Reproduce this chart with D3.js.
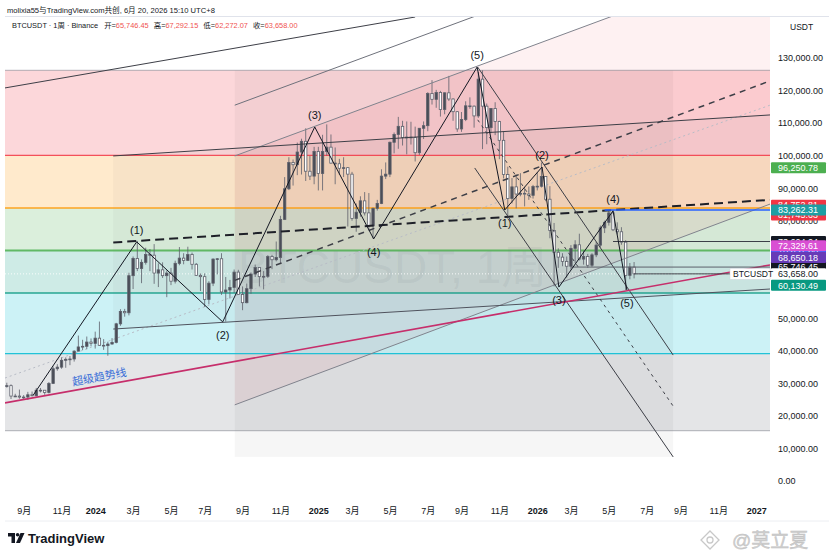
<!DOCTYPE html>
<html>
<head>
<meta charset="utf-8">
<script src="https://cdn.jsdelivr.net/npm/d3@7"></script>
<style>
  body { margin: 0; background: #fff; }
  svg text { font-family: "Liberation Sans", "Noto Sans CJK SC", sans-serif; }
</style>
</head>
<body>
<svg id="chart" width="829" height="556"></svg>
<script>
// ── Data (prices in thousands of USDT, one weekly candle per row, first week 2023-08-07) ──
const FIRST_WEEK = "2023-08-07";
const OPEN = [
  29.1, 29.3, 26.1, 26.1, 25.8, 25.8, 26.5, 26.2, 27.9, 27.9, 27.2, 30.0, 34.5, 35.0, 37.1, 37.4, 37.5, 39.9, 41.2, 41.4, 42.7,
  42.3, 43.9, 41.7, 41.6, 42.1, 42.6, 48.3, 52.1, 51.7, 63.1, 68.4, 65.3, 67.2, 69.6, 69.4, 63.9, 64.9, 63.1, 63.9, 61.4, 66.9,
  68.5, 67.8, 69.6, 66.6, 63.2, 62.8, 55.8, 60.8, 68.2, 68.3, 58.1, 58.7, 59.5, 64.2, 57.3, 54.8, 59.1, 63.6, 65.6, 62.8, 62.9,
  69.0, 68.0, 68.7, 80.4, 89.8, 97.9, 97.2, 101.1, 104.4, 95.2, 93.7,
  101.3, 94.5, 101.3, 102.6, 97.7, 97.5, 96.1, 96.3, 94.3, 80.7, 82.6, 86.1, 82.4, 78.4, 83.8, 85.3, 93.7, 94.3, 104.1, 106.5,
  109.0, 105.6, 105.7, 105.6, 100.9, 108.4, 109.2, 119.1, 117.3, 119.4, 114.2, 119.3, 117.4, 113.5, 108.2, 111.1, 115.3, 115.2,
  112.2, 123.5, 115.2, 108.6, 114.5, 110.5, 104.7, 94.2, 86.8, 90.4, 88.2, 88.4, 88.2, 87.8,
  90.5, 90.6, 93.6, 86.6, 77.0, 70.3, 68.8, 67.5, 66.0, 71.5, 72.6, 68.2, 69.0, 66.3, 69.5, 72.5, 77.8, 79.5, 82.4, 77.2, 76.6,
  73.4, 63.2, 65.74645
];
const HIGH = [
  30.2, 29.7, 26.8, 28.1, 26.4, 27.4, 27.5, 28.6, 28.6, 27.9, 30.4, 35.2, 35.9, 38.0, 38.0, 38.4, 40.2, 44.7, 43.4, 44.4, 43.8,
  45.9, 49.0, 43.6, 42.8, 43.9, 48.6, 52.8, 52.9, 64.0, 69.0, 73.8, 68.1, 71.7, 71.3, 72.8, 66.9, 67.2, 64.7, 65.5, 67.7, 71.9,
  70.0, 72.0, 70.2, 67.0, 63.8, 63.8, 61.4, 68.4, 68.5, 70.0, 62.7, 61.8, 65.0, 64.9, 59.8, 60.7, 64.1, 66.5, 65.7, 64.5, 69.4,
  69.5, 73.6, 81.5, 93.4, 99.5, 98.8, 104.0, 105.2, 108.4, 99.9, 102.7,
  102.7, 106.4, 109.6, 106.5, 102.5, 99.0, 99.5, 96.5, 95.0, 85.3, 87.5, 88.8, 88.5, 84.0, 86.4, 95.8, 97.9, 104.3, 107.1, 111.9,
  110.7, 110.5, 110.4, 108.9, 108.5, 110.5, 119.5, 123.2, 120.2, 119.9, 119.4, 124.5, 117.6, 113.6, 113.4, 116.7, 117.9, 115.4,
  125.7, 126.2, 116.0, 114.6, 116.4, 110.7, 107.5, 96.6, 93.1, 94.2, 94.6, 90.4, 90.5, 91.0,
  94.8, 97.9, 93.7, 90.6, 79.3, 71.5, 70.0, 69.0, 72.5, 74.0, 76.0, 70.8, 69.8, 70.0, 73.5, 78.5, 80.0, 83.0, 83.3, 79.5, 78.0,
  74.0, 67.0, 67.29215
];
const LOW = [
  28.7, 25.2, 25.8, 25.3, 24.9, 24.9, 26.0, 26.0, 27.2, 26.5, 26.9, 29.8, 33.9, 34.5, 34.8, 35.6, 36.7, 39.9, 40.2, 40.5, 41.4,
  40.7, 41.5, 40.3, 38.5, 41.9, 42.3, 47.7, 50.5, 50.9, 59.0, 64.5, 60.8, 66.5, 64.5, 60.6, 59.6, 62.4, 56.5, 60.2, 60.7, 66.3,
  66.6, 67.6, 65.0, 63.0, 58.4, 53.5, 54.3, 59.9, 63.5, 57.2, 49.0, 56.1, 57.8, 57.2, 52.5, 54.6, 57.5, 62.7, 59.8, 58.9, 62.4,
  65.1, 67.5, 66.8, 80.2, 89.4, 90.8, 94.0, 94.2, 92.2, 92.5, 91.2,
  89.3, 89.3, 100.0, 97.5, 91.2, 94.1, 93.4, 78.2, 80.0, 76.6, 81.2, 81.6, 77.2, 74.5, 83.1, 85.1, 92.8, 93.4, 100.7, 102.1,
  103.1, 100.4, 103.4, 98.2, 100.2, 105.1, 107.5, 115.7, 114.7, 112.0, 112.7, 116.8, 110.7, 107.3, 107.3, 110.6, 114.4, 108.6,
  111.6, 102.0, 103.5, 106.9, 106.3, 98.9, 93.0, 80.6, 85.3, 83.8, 87.5, 84.4, 86.4, 86.8,
  89.3, 90.2, 86.0, 74.6, 59.8, 65.5, 66.0, 62.5, 65.0, 67.0, 67.8, 66.5, 65.5, 65.8, 68.8, 71.8, 76.2, 78.5, 76.8, 75.8, 72.6,
  58.7, 62.0, 62.27207
];
const CLOSE = [
  29.3, 26.1, 26.1, 25.8, 25.8, 26.5, 26.2, 27.9, 27.9, 27.2, 30.0, 34.5, 35.0, 37.1, 37.4, 37.5, 39.9, 41.2, 41.4, 42.7, 42.3,
  43.9, 41.7, 41.6, 42.1, 42.6, 48.3, 52.1, 51.7, 63.1, 68.4, 65.3, 67.2, 69.6, 69.4, 63.9, 64.9, 63.1, 63.9, 61.4, 66.9, 68.5,
  67.8, 69.6, 66.6, 63.2, 62.8, 55.8, 60.8, 68.2, 68.3, 58.1, 58.7, 59.5, 64.2, 57.3, 54.8, 59.1, 63.6, 65.6, 62.8, 62.9, 69.0,
  68.0, 68.7, 80.4, 89.8, 97.9, 97.2, 101.1, 104.4, 95.2, 93.7, 101.3,
  94.5, 101.3, 102.6, 97.7, 97.5, 96.1, 96.3, 94.3, 80.7, 82.6, 86.1, 82.4, 78.4, 83.8, 85.3, 93.7, 94.3, 104.1, 106.5, 109.0,
  105.6, 105.7, 105.6, 100.9, 108.4, 109.2, 119.1, 117.3, 119.4, 114.2, 119.3, 117.4, 113.5, 108.2, 111.1, 115.3, 115.2, 112.2,
  123.5, 115.2, 108.6, 114.5, 110.5, 104.7, 94.2, 86.8, 90.4, 88.2, 88.4, 88.2, 87.8, 90.5,
  90.6, 93.6, 86.6, 77.0, 70.3, 68.8, 67.5, 66.0, 71.5, 72.6, 68.2, 69.0, 66.3, 69.5, 72.5, 77.8, 79.5, 82.4, 77.2, 76.6, 73.4,
  63.2, 65.74645, 63.658
];

// Fibonacci retracement (Nov 2022 low → Oct 2025 high)
const FIB_LOW = 15.476, FIB_HIGH = 126.19963;
const FIB_RATIOS = [0, 0.236, 0.382, 0.5, 0.618, 0.786, 1];

// Elliott waves [date, price]
const WAVE_UP = [["2023-09-20", 26.4], ["2024-03-10", 73.5], ["2024-07-31", 48.9], ["2024-12-31", 108.8], ["2025-04-08", 74.4], ["2025-09-27", 127.2]];
const WAVE_UP_LABELS = ["", "(1)", "(2)", "(3)", "(4)", "(5)"];
const WAVE_DOWN = [["2025-09-27", 127.2], ["2025-11-12", 83.3], ["2026-01-13", 96.5], ["2026-02-10", 59.6], ["2026-05-11", 83.0], ["2026-06-03", 58.7]];
const WAVE_DOWN_LABELS = ["", "(1)", "(2)", "(3)", "(4)", "(5)"];

// Drawn trend lines [date, price]
const LINE_TOP      = [["2023-08-04", 120.8], ["2025-06-16", 142.6]];
const LINE_UPPER    = [["2024-08-20", 115.5], ["2027-01-27", 176.4]];
const CH1_TOP       = [["2024-08-20", 99.9],  ["2027-01-27", 160.8]];
const CH1_MID       = [["2024-08-20", 61.65], ["2027-01-27", 122.95]];
const CH1_BOTTOM    = [["2024-08-20", 23.4],  ["2027-01-27", 85.1]];
const CH2_TOP       = [["2024-01-31", 99.9],  ["2027-01-27", 112.5]];
const CH2_MID       = [["2024-01-31", 73.3],  ["2027-01-27", 86.4]];
const CH2_BOTTOM    = [["2024-01-31", 46.7],  ["2027-01-27", 59.0]];
const DOWN_UPPER    = [["2025-09-28", 127.2], ["2026-08-19", 38.7]];
const DOWN_MID      = [["2025-09-28", 111.0], ["2026-08-19", 23.0]];
const DOWN_LOWER    = [["2025-09-23", 96.2],  ["2026-08-19", 7.4]];
const SUPER_TREND   = [["2023-08-04", 24.0],  ["2027-01-27", 66.4]];
const FAINT_LINE    = [["2023-08-04", 31.65], ["2027-01-27", 115.5]];
const SHADE_BOX     = [["2024-08-20", 126.2], ["2026-08-19", 7.4]];

// Horizontal rays [start date, price]
const RAY_BLUE  = ["2026-04-27", 83.26231];
const RAY_HIGH  = ["2026-05-11", 73.60404];
const RAY_MID   = ["2026-03-02", 65.74645];
const RAY_LAST  = ["2026-06-15", 63.658];

// Price axis tags
const TAG_PRICES = [96250.78, 81745.63, 84752.81, 83262.31, 73604.04, 70837.80, 72329.61, 65746.45, 68650.18, 63658.00, 60130.49];
const LAST_PRICE = 63658.00;

// Axes
const Y_TICKS = [0, 10, 20, 30, 40, 50, 60, 70, 80, 90, 100, 110, 120, 130];
const X_TICKS = ["2023-09-04", "2023-11-06", "2024-01-01", "2024-03-04", "2024-05-06", "2024-07-01", "2024-09-02", "2024-11-04",
  "2025-01-06", "2025-03-03", "2025-05-05", "2025-07-07", "2025-09-01", "2025-11-03", "2026-01-05", "2026-03-02", "2026-05-04",
  "2026-07-06", "2026-08-31", "2026-11-02", "2027-01-04"];
const X_LABELS = ["9月", "11月", "2024", "3月", "5月", "7月", "9月", "11月", "2025", "3月", "5月", "7月", "9月", "11月", "2026",
  "3月", "5月", "7月", "9月", "11月", "2027"];

// ── Layout ──────────────────────────────────────────────────────────────────
const PL = 5, PR = 770, PT = 17, PB = 497;
const svg = d3.select("#chart");
const x = d3.scaleUtc().domain([new Date("2023-08-04"), new Date("2027-01-27")]).range([PL, PR]);
const y = d3.scaleLinear().domain([0, 130]).range([481, 58]);
const D = s => new Date(s);
const fmt = d3.format(",.2f");

svg.append("rect").attr("width", 829).attr("height", 556).attr("fill", "#fff");
svg.append("defs").append("clipPath").attr("id", "plot")
  .append("rect").attr("x", PL).attr("y", PT).attr("width", PR - PL).attr("height", PB - PT);
const plot = svg.append("g").attr("clip-path", "url(#plot)");

// Fib bands + levels
const FIB_COLORS = ["#787b86", "#f23645", "#ff9800", "#4caf50", "#089981", "#00bcd4", "#787b86"];
const fibPrice = r => FIB_HIGH - r * (FIB_HIGH - FIB_LOW);
FIB_RATIOS.slice(1).forEach((r, i) => {
  const top = y(fibPrice(FIB_RATIOS[i])), bot = y(fibPrice(r));
  plot.append("rect").attr("x", PL).attr("width", PR - PL)
    .attr("y", top).attr("height", bot - top)
    .attr("fill", FIB_COLORS[i + 1]).attr("fill-opacity", 0.2);
});

const line = d3.line().x(d => x(D(d[0]))).y(d => y(d[1]));
const poly = (a, b) => line([a[0], a[1], b[1], b[0]]) + "Z";

// Channel fills and shaded box
plot.append("path").attr("d", poly(CH2_TOP, CH2_BOTTOM)).attr("fill", "#5a5a5a").attr("fill-opacity", 0.045);
plot.append("path").attr("d", poly(CH1_TOP, CH1_BOTTOM)).attr("fill", "#f23645").attr("fill-opacity", 0.07);
plot.append("rect")
  .attr("x", x(D(SHADE_BOX[0][0]))).attr("y", y(SHADE_BOX[0][1]))
  .attr("width", x(D(SHADE_BOX[1][0])) - x(D(SHADE_BOX[0][0])))
  .attr("height", y(SHADE_BOX[1][1]) - y(SHADE_BOX[0][1]))
  .attr("fill", "#000").attr("fill-opacity", 0.035);

FIB_RATIOS.forEach((r, i) => {
  plot.append("line").attr("x1", PL).attr("x2", PR)
    .attr("y1", y(fibPrice(r))).attr("y2", y(fibPrice(r)))
    .attr("stroke", FIB_COLORS[i]).attr("stroke-width", r === 0.5 ? 2 : 1.3)
    .attr("stroke-opacity", r === 0 || r === 1 ? 0.45 : 0.85);
});

// Watermark
plot.append("text").attr("x", 238).attr("y", 283).attr("font-size", 46)
  .attr("fill", "#787b86").attr("fill-opacity", 0.1).text("BTCUSDT, 1周");

// Last price dotted line
plot.append("line").attr("x1", PL).attr("x2", PR).attr("y1", y(LAST_PRICE / 1000)).attr("y2", y(LAST_PRICE / 1000))
  .attr("stroke", "#fff").attr("stroke-dasharray", "1,2").attr("stroke-opacity", 0.9);

// Faint dotted line
plot.append("path").attr("d", line(FAINT_LINE)).attr("stroke", "#b8bcc6").attr("stroke-dasharray", "2,3").attr("fill", "none");

// Candles
const candles = OPEN.map((o, i) => ({
  date: d3.utcMonday.offset(D(FIRST_WEEK), i), o, h: HIGH[i], l: LOW[i], c: CLOSE[i]
}));
const cg = plot.append("g");
cg.selectAll("line").data(candles).join("line")
  .attr("x1", d => x(d.date)).attr("x2", d => x(d.date))
  .attr("y1", d => y(d.h)).attr("y2", d => y(d.l))
  .attr("stroke", "#5d606b").attr("stroke-width", 0.8);
cg.selectAll("rect").data(candles).join("rect")
  .attr("x", d => x(d.date) - 1.2).attr("width", 2.4)
  .attr("y", d => y(Math.max(d.o, d.c)))
  .attr("height", d => Math.max(0.8, Math.abs(y(d.o) - y(d.c))))
  .attr("fill", d => d.c >= d.o ? "#4a4d57" : "#ffffff")
  .attr("stroke", "#5d606b").attr("stroke-width", 0.8);

// Trend lines
function drawLine(pts, stroke, width, dash) {
  plot.append("path").attr("d", line(pts)).attr("fill", "none")
    .attr("stroke", stroke).attr("stroke-width", width)
    .attr("stroke-dasharray", dash || null);
}
drawLine(LINE_TOP, "#3d3f47", 1);
drawLine(LINE_UPPER, "#6e717b", 1);
drawLine(CH1_TOP, "#80838d", 1);
drawLine(CH1_BOTTOM, "#80838d", 1);
drawLine(CH1_MID, "#3d3f47", 1.5, "6,5");
drawLine(CH2_TOP, "#3d3f47", 1);
drawLine(CH2_BOTTOM, "#50535e", 1);
drawLine(CH2_MID, "#1e2028", 2, "9,5");
drawLine(DOWN_UPPER, "#3d3f47", 1);
drawLine(DOWN_LOWER, "#3d3f47", 1);
drawLine(DOWN_MID, "#3d3f47", 1, "3,4");
drawLine(SUPER_TREND, "#c62e6b", 1.6);

[[RAY_BLUE, "#2962ff", 1.5], [RAY_HIGH, "#3d3f47", 1], [RAY_MID, "#5d606b", 1], [RAY_LAST, "#3d3f47", 1]]
  .forEach(([r, stroke, w]) => drawLine([r, ["2027-01-27", r[1]]], stroke, w));

// Super trend label
const stAngle = Math.atan2(y(SUPER_TREND[1][1]) - y(SUPER_TREND[0][1]),
  x(D(SUPER_TREND[1][0])) - x(D(SUPER_TREND[0][0]))) * 180 / Math.PI;
const stDate = "2024-01-09";
const stT = (D(stDate) - D(SUPER_TREND[0][0])) / (D(SUPER_TREND[1][0]) - D(SUPER_TREND[0][0]));
const stPrice = SUPER_TREND[0][1] + stT * (SUPER_TREND[1][1] - SUPER_TREND[0][1]);
plot.append("text")
  .attr("transform", `translate(${x(D(stDate))},${y(stPrice) - 5}) rotate(${stAngle})`)
  .attr("text-anchor", "middle").attr("font-size", 11).attr("fill", "#3a6fd8").text("超级趋势线");

// Elliott waves
function drawWave(pts, labels) {
  drawLine(pts, "#131722", 1);
  pts.forEach((p, i) => {
    if (!labels[i]) return;
    const up = p[1] > pts[i - 1][1];
    plot.append("text").attr("x", x(D(p[0]))).attr("y", y(p[1]) + (up ? -8 : 17))
      .attr("text-anchor", "middle").attr("font-size", 11).attr("fill", "#131722").text(labels[i]);
  });
}
drawWave(WAVE_UP, WAVE_UP_LABELS);
drawWave(WAVE_DOWN, WAVE_DOWN_LABELS);

// ── Axes ────────────────────────────────────────────────────────────────────
const yAxis = svg.append("g").attr("transform", `translate(${PR},0)`)
  .call(d3.axisRight(y).tickValues(Y_TICKS).tickFormat(d => fmt(d * 1000)).tickSize(0).tickPadding(8));
yAxis.select(".domain").remove();
yAxis.selectAll("text").attr("font-size", 9).attr("fill", "#131722").attr("font-family", null);

const xAxis = svg.append("g").attr("transform", `translate(0,505)`)
  .call(d3.axisBottom(x).tickValues(X_TICKS.map(D)).tickFormat((d, i) => X_LABELS[i]).tickSize(0).tickPadding(3));
xAxis.select(".domain").remove();
xAxis.selectAll("text").attr("font-size", 9).attr("fill", "#131722").attr("font-family", null)
  .attr("font-weight", (d, i) => X_LABELS[i].length === 4 ? "bold" : null);

svg.append("text").attr("x", 790).attr("y", 30).attr("font-size", 8.5).attr("fill", "#131722").text("USDT");

// Price tags
const TAG_FILLS = ["#4caf50", "#f23645", "#f23645", "#1e9ea3", "#131722", "#2962ff", "#d94fd3", "#131722", "#673ab7", "#ffffff", "#089981"];
TAG_PRICES.forEach((p, i) => {
  const cy = y(p / 1000);
  const g = svg.append("g");
  g.append("rect").attr("x", 771).attr("y", cy - 5.5).attr("width", 55).attr("height", 11).attr("rx", 1)
    .attr("fill", TAG_FILLS[i]);
  g.append("text").attr("x", 778).attr("y", cy + 3.2).attr("font-size", 9)
    .attr("fill", p === LAST_PRICE ? "#131722" : "#fff").text(fmt(p));
});
const ly = y(LAST_PRICE / 1000);
svg.append("rect").attr("x", 730).attr("y", ly - 5.5).attr("width", 40).attr("height", 11)
  .attr("fill", "#fff").attr("stroke", "#d1d4dc").attr("stroke-width", 0.5);
svg.append("text").attr("x", 733).attr("y", ly + 3).attr("font-size", 8.5).attr("fill", "#131722").text("BTCUSDT");

// Frame lines
svg.append("line").attr("x1", PL).attr("x2", 829).attr("y1", PT - 0.5).attr("y2", PT - 0.5).attr("stroke", "#e0e3eb");
svg.append("line").attr("x1", PL).attr("x2", 829).attr("y1", 521).attr("y2", 521).attr("stroke", "#eceef2");

// ── Header ──────────────────────────────────────────────────────────────────
svg.append("text").attr("x", 7).attr("y", 12.5).attr("font-size", 7.6).attr("fill", "#131722")
  .text("molixia55与TradingView.com共创, 6月 20, 2026 15:10 UTC+8");
const hdr = svg.append("text").attr("x", 12).attr("y", 28).attr("font-size", 7.4).attr("fill", "#131722");
hdr.append("tspan").text("BTCUSDT · 1周 · Binance");
const last = OPEN.length - 1;
[["开=", OPEN], ["高=", HIGH], ["低=", LOW], ["收=", CLOSE]].forEach(([k, arr], i) => {
  hdr.append("tspan").attr("dx", i === 0 ? 6 : 5).text(k);
  hdr.append("tspan").attr("fill", "#ef5350").text(fmt(arr[last] * 1000));
});

// ── Footer: TradingView logo + watermark ────────────────────────────────────
const logo = svg.append("g").attr("transform", "translate(8,533)").attr("fill", "#131722");
logo.append("path").attr("d", "M0 0 H7 V10 H3.5 V3.5 H0 Z");
logo.append("circle").attr("cx", 9.6).attr("cy", 1.8).attr("r", 1.8);
logo.append("path").attr("d", "M12.5 0 H16.5 L12 10 H8 Z");
svg.append("text").attr("x", 28).attr("y", 543).attr("font-size", 13).attr("font-weight", "bold")
  .attr("fill", "#131722").text("TradingView");

const wm = svg.append("g").attr("transform", "translate(710,540)").attr("fill", "none").attr("stroke", "#c8c8c8").attr("stroke-width", 1.3);
wm.append("path").attr("d", "M0 -9 L9 0 L0 9 L-9 0 Z");
wm.append("circle").attr("r", 3);
svg.append("text").attr("x", 732).attr("y", 547).attr("font-size", 19).attr("fill", "#d0d0d0")
  .attr("stroke", "#bdbdbd").attr("stroke-width", 0.4).text("@莫立夏");
</script>
</body>
</html>
